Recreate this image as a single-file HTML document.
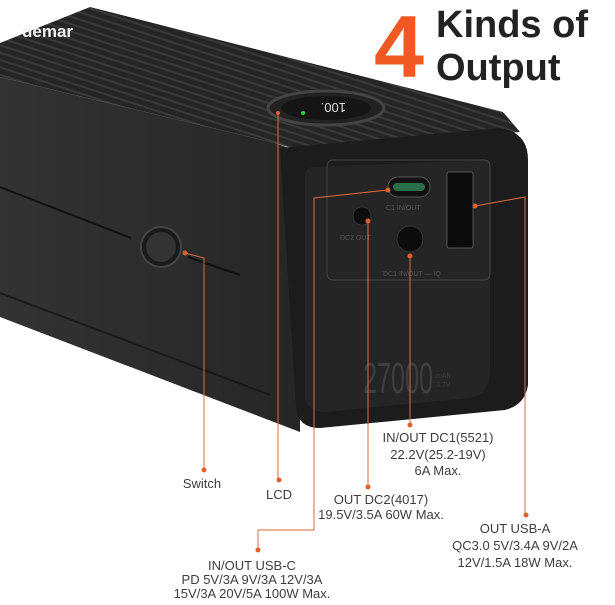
<!DOCTYPE html>
<html><head><style>
body{margin:0;width:615px;height:600px;background:#fff;overflow:hidden;font-family:"Liberation Sans",sans-serif}
</style></head><body>
<svg width="615" height="600" viewBox="0 0 615 600" xmlns="http://www.w3.org/2000/svg">
<defs>
<linearGradient id="side" x1="0" y1="0" x2="1" y2="0"><stop offset="0" stop-color="#333"/><stop offset="1" stop-color="#262626"/></linearGradient>
<pattern id="stripes" width="7" height="7" patternUnits="userSpaceOnUse" patternTransform="rotate(18)"><rect width="7" height="7" fill="#252525"/><rect width="7" height="2" fill="#393939"/></pattern>
</defs>
<polygon points="0,43 90,7 503,112 520,132 298,150 275,143 0,77" fill="url(#stripes)"/>
<polygon points="0,77 275,143 300,152 300,432 0,317" fill="url(#side)"/>
<line x1="0" y1="187" x2="131" y2="238" stroke="#111" stroke-width="2"/>
<line x1="188" y1="257" x2="240" y2="275" stroke="#111" stroke-width="2"/>
<line x1="0" y1="293" x2="270" y2="395" stroke="#1a1a1a" stroke-width="2"/>
<path d="M280,148 L500,128 Q528,132 528,160 L528,385 Q525,405 505,410 L320,428 Q298,428 296,408 Z" fill="#1c1c1c"/>
<path d="M305,175 Q305,168 313,167 L490,160 L490,375 Q488,395 470,398 L325,412 Q307,412 305,398 Z" fill="#252525"/>
<rect x="327" y="160" width="163" height="120" rx="6" fill="none" stroke="#444" stroke-width="1"/>
<text x="363" y="393" fill="#3e3e3e" font-size="44" textLength="70" lengthAdjust="spacingAndGlyphs">27000</text>
<text x="436" y="378" fill="#3e3e3e" font-size="7">mAh</text>
<text x="436" y="387" fill="#3e3e3e" font-size="7">3.7V</text>
<rect x="388" y="177" width="42" height="20" rx="10" fill="#111" stroke="#555"/>
<rect x="393" y="183" width="32" height="8" rx="4" fill="#2a6f4a"/>
<circle cx="362" cy="216" r="9" fill="#0c0c0c" stroke="#333"/>
<circle cx="410" cy="239" r="13" fill="#0c0c0c" stroke="#333"/>
<rect x="447" y="172" width="26" height="76" rx="2" fill="#0c0c0c" stroke="#555"/>
<text x="386" y="210" fill="#555" font-size="7">C1 IN/OUT</text>
<text x="340" y="240" fill="#555" font-size="7">DC2 OUT</text>
<text x="383" y="276" fill="#555" font-size="7">DC1 IN/OUT — IQ</text>
<circle cx="161" cy="247" r="20" fill="#1a1a1a" stroke="#444" stroke-width="2"/>
<circle cx="161" cy="247" r="15" fill="#333"/>
<ellipse cx="326" cy="108" rx="58" ry="17" fill="#222" stroke="#444" stroke-width="3"/>
<ellipse cx="326" cy="108" rx="45" ry="12" fill="#151515"/>
<text x="306" y="113" fill="#ddd" font-size="13" transform="rotate(180 326 108)">100.</text>
<circle cx="303" cy="113" r="2" fill="#3c3"/>
<g stroke="#e06a3c" stroke-width="1" fill="none">
<polyline points="185,253 204,258 204,470"/>
<polyline points="278,113 278,480"/>
<polyline points="388,190 314,198 314,530 258,530 258,550"/>
<polyline points="368,221 368,487"/>
<polyline points="410,256 410,425"/>
<polyline points="475,206 525,197 525,515"/>
</g>
<g fill="#e0602c">
<circle cx="185" cy="253" r="2.5"/><circle cx="204" cy="470" r="2.5"/>
<circle cx="278" cy="113" r="2"/><circle cx="279" cy="480" r="2.5"/>
<circle cx="388" cy="190" r="2.5"/><circle cx="258" cy="550" r="2.5"/>
<circle cx="368" cy="221" r="2.5"/><circle cx="368" cy="487" r="2.5"/>
<circle cx="410" cy="256" r="2.5"/><circle cx="410" cy="425" r="2.5"/>
<circle cx="475" cy="206" r="2.5"/><circle cx="526" cy="515" r="2.5"/>
</g>
<g fill="#3e3e3e" font-size="13" text-anchor="middle">
<text x="202" y="488">Switch</text>
<text x="279" y="499">LCD</text>
<text x="438" y="442">IN/OUT DC1(5521)</text>
<text x="438" y="459">22.2V(25.2-19V)</text>
<text x="438" y="475">6A Max.</text>
<text x="381" y="504">OUT DC2(4017)</text>
<text x="381" y="519">19.5V/3.5A 60W Max.</text>
<text x="515" y="533">OUT USB-A</text>
<text x="515" y="550">QC3.0 5V/3.4A 9V/2A</text>
<text x="515" y="567">12V/1.5A 18W Max.</text>
<text x="252" y="570">IN/OUT USB-C</text>
<text x="252" y="584">PD 5V/3A 9V/3A 12V/3A</text>
<text x="252" y="598">15V/3A 20V/5A 100W Max.</text>
</g>
<text x="22" y="37" fill="#f2f2f2" font-size="17" font-weight="bold">demar</text>
<text x="374" y="77" fill="#f05a22" font-size="88" font-weight="bold" textLength="50" lengthAdjust="spacingAndGlyphs">4</text>
<text x="436" y="37" fill="#222" font-size="38" font-weight="bold">Kinds of</text>
<text x="436" y="80" fill="#222" font-size="38" font-weight="bold">Output</text>
</svg>
</body></html>
